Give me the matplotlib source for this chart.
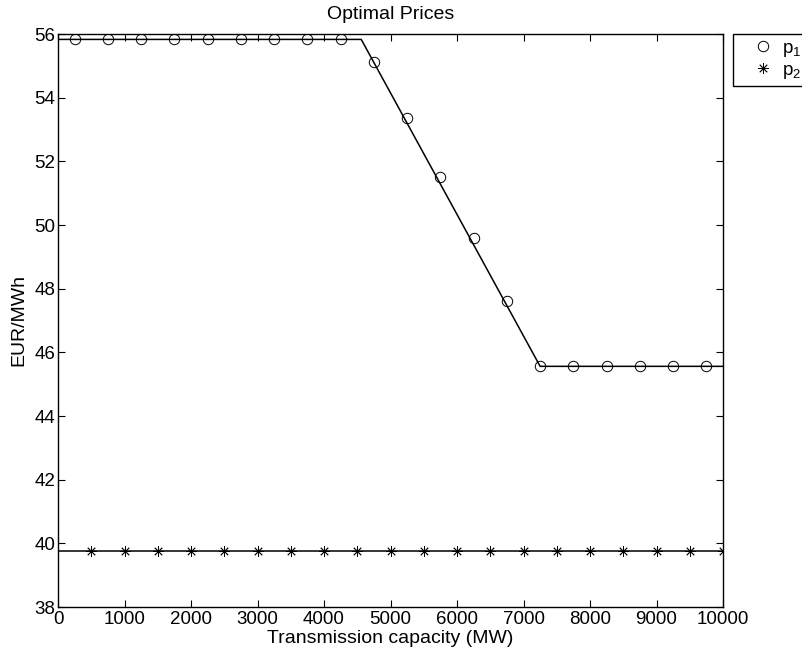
import matplotlib
matplotlib.use('Agg')
import matplotlib.pyplot as plt

plt.rcParams['font.family'] = ['Liberation Sans', 'DejaVu Sans']
plt.rcParams['font.size'] = 13.5
plt.rcParams['mathtext.fontset'] = 'custom'
plt.rcParams['mathtext.rm'] = 'Liberation Sans'
plt.rcParams['mathtext.it'] = 'Liberation Sans'

# sampled optimal prices
x_p1 = [250, 750, 1250, 1750, 2250, 2750, 3250, 3750, 4250,
        4750, 5250, 5750, 6250, 6750, 7250, 7750, 8250, 8750, 9250, 9750]
p1 = [55.83, 55.83, 55.83, 55.83, 55.83, 55.83, 55.83, 55.83, 55.83,
      55.13, 53.35, 51.51, 49.58, 47.60, 45.56, 45.56, 45.56, 45.56, 45.56, 45.56]
x_p2 = [500, 1000, 1500, 2000, 2500, 3000, 3500, 4000, 4500, 5000,
        5500, 6000, 6500, 7000, 7500, 8000, 8500, 9000, 9500, 10000]
p2 = [39.77] * 20

# analytic price curves
x_curve1 = [0, 4560, 7250, 10000]
curve1 = [55.83, 55.83, 45.56, 45.56]
x_curve2 = [0, 10000]
curve2 = [39.77, 39.77]

fig = plt.figure(figsize=(8.02, 6.52), dpi=100)
ax = fig.add_axes([58/802, 45/652, 665/802, 573/652])

ax.plot(x_p1, p1, linestyle='none', marker='o', markersize=7.5,
        markerfacecolor='none', markeredgecolor='k', markeredgewidth=0.7, label='p$_1$')
ax.plot(x_p2, p2, linestyle='none', marker=(8, 2, 0), markersize=7.5,
        markeredgecolor='k', markeredgewidth=0.6, color='k', label='p$_2$')
ax.plot(x_curve1, curve1, color='k', linewidth=1.1)
ax.plot(x_curve2, curve2, color='k', linewidth=1.1)

ax.set_xlim(0, 10000)
ax.set_ylim(38, 56)
ax.set_xticks(range(0, 10001, 1000))
ax.set_yticks(range(38, 57, 2))
ax.tick_params(direction='in', top=True, right=True, length=5, width=0.8, pad=2)
ax.tick_params(axis='x', pad=3)
for s in ax.spines.values():
    s.set_linewidth(1.0)

ax.set_title('Optimal Prices', fontsize=14, pad=11)
ax.set_xlabel('Transmission capacity (MW)', fontsize=14)
ax.xaxis.set_label_coords(0.5, -0.041)
ax.set_ylabel('EUR/MWh', fontsize=14)
ax.yaxis.set_label_coords(-0.046, 0.5)

leg = ax.legend(loc='upper left', bbox_to_anchor=(733/802, 1 - 34/652),
                bbox_transform=fig.transFigure, fancybox=False, framealpha=1,
                edgecolor='k', borderaxespad=0, handlelength=2.6, handletextpad=-0.3,
                borderpad=0.3, labelspacing=0.15, fontsize=13.5)
leg.get_frame().set_linewidth(1.0)

fig.savefig('out.png', dpi=100)
